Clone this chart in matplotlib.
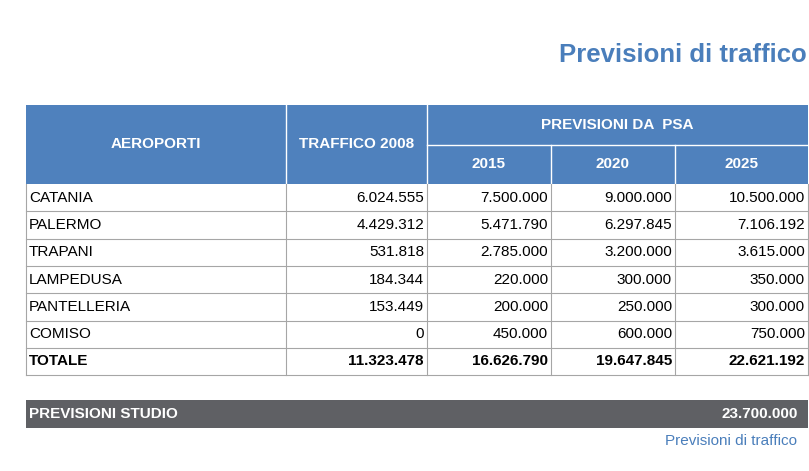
import matplotlib.pyplot as plt
from matplotlib.patches import Rectangle

plt.rcParams['font.family'] = ['Liberation Sans Narrow', 'Liberation Sans', 'DejaVu Sans']

airports = ["CATANIA", "PALERMO", "TRAPANI", "LAMPEDUSA", "PANTELLERIA", "COMISO"]
traffic_2008 = ["6.024.555", "4.429.312", "531.818", "184.344", "153.449", "0"]
psa_2015 = ["7.500.000", "5.471.790", "2.785.000", "220.000", "200.000", "450.000"]
psa_2020 = ["9.000.000", "6.297.845", "3.200.000", "300.000", "250.000", "600.000"]
psa_2025 = ["10.500.000", "7.106.192", "3.615.000", "350.000", "300.000", "750.000"]
totals = ["11.323.478", "16.626.790", "19.647.845", "22.621.192"]
years = ["2015", "2020", "2025"]
studio_value = "23.700.000"

blue = "#4f81bd"
title_blue = "#4a7ebb"
grey = "#5f6064"
line = "#a6a6a6"

fig = plt.figure(figsize=(8.09, 4.71), dpi=100)
ax = fig.add_axes([0, 0, 1, 1])
ax.set_xlim(0, 809)
ax.set_ylim(471, 0)
ax.axis("off")

cols = [26, 286, 427, 551, 675, 808]
h_top, h_mid, h_bot = 105, 145, 184
row_h = 27.3

# header
ax.add_patch(Rectangle((cols[0], h_top), cols[-1] - cols[0], h_bot - h_top, color=blue, lw=0))
for x in cols[1:3]:
    ax.plot([x, x], [h_top, h_bot], color="white", lw=1)
for x in cols[3:5]:
    ax.plot([x, x], [h_mid, h_bot], color="white", lw=1)
ax.plot([cols[2], cols[-1]], [h_mid, h_mid], color="white", lw=1)
hk = dict(color="white", fontsize=11, fontweight="bold", ha="center", va="center")
ax.text((cols[0] + cols[1]) / 2, (h_top + h_bot) / 2, "AEROPORTI", **hk)
ax.text((cols[1] + cols[2]) / 2, (h_top + h_bot) / 2, "TRAFFICO 2008", **hk)
ax.text((cols[2] + cols[-1]) / 2, (h_top + h_mid) / 2, "PREVISIONI DA  PSA", **hk)
for i, y in enumerate(years):
    ax.text((cols[2 + i] + cols[3 + i]) / 2, (h_mid + h_bot) / 2, y, **hk)

# body
rows = list(zip(airports, traffic_2008, psa_2015, psa_2020, psa_2025))
rows.append(("TOTALE", *totals))
for r, vals in enumerate(rows):
    y0 = h_bot + r * row_h
    yc = y0 + row_h / 2
    bold = "bold" if r == len(rows) - 1 else "normal"
    ax.text(cols[0] + 3, yc, vals[0], fontsize=11, fontweight=bold, va="center", ha="left")
    for c in range(1, 5):
        ax.text(cols[c + 1] - 3, yc, vals[c], fontsize=11, fontweight=bold, va="center", ha="right")
    ax.plot([cols[0], cols[-1]], [y0 + row_h, y0 + row_h], color=line, lw=0.8)
body_bot = h_bot + len(rows) * row_h
for x in cols:
    ax.plot([x, x], [h_bot, body_bot], color=line, lw=0.8)

# studio bar
ax.add_patch(Rectangle((cols[0], 400), cols[-1] - cols[0], 28, color=grey, lw=0))
ax.text(cols[0] + 3, 414, "PREVISIONI STUDIO", color="white", fontsize=11, fontweight="bold", va="center")
ax.text(cols[-1] - 10, 414, studio_value, color="white", fontsize=11, fontweight="bold", va="center", ha="right")

ax.text(807, 55, "Previsioni di traffico", color=title_blue, fontsize=18.5, fontweight="bold", ha="right", va="center")
ax.text(797, 441, "Previsioni di traffico", color=title_blue, fontsize=11, ha="right", va="center")

fig.savefig("out.png", dpi=100)
